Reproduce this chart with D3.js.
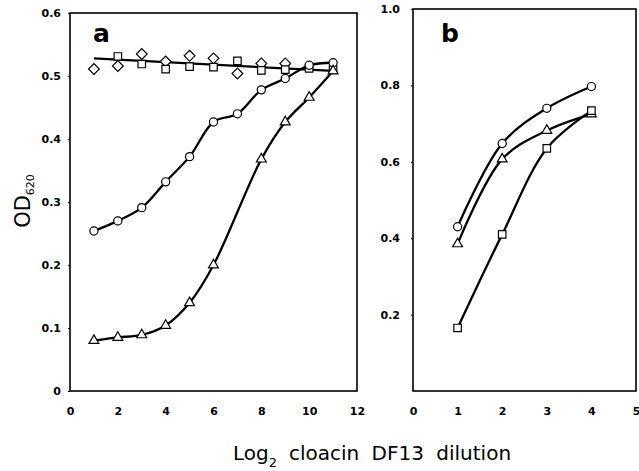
<!DOCTYPE html>
<html>
<head>
<meta charset="utf-8">
<script src="https://cdn.jsdelivr.net/npm/d3@7"></script>
<style>
  body { margin: 0; background: #fff; }
  svg { display: block; }
  .tick text { font-family: "DejaVu Sans", sans-serif; font-weight: bold; font-size: 11px; }
  .frame { fill: none; stroke: #000; stroke-width: 1.6; }
</style>
</head>
<body>
<div id="chart"></div>
<script>
// panel a - x values (log2 dilution) and OD620 readings
var doseA = [1, 2, 3, 4, 5, 6, 7, 8, 9, 10, 11];
var circlesA = [0.254, 0.270, 0.291, 0.332, 0.372, 0.427, 0.440, 0.478, 0.496, 0.517, 0.521];
var triDoseA = [1, 2, 3, 4, 5, 6, 8, 9, 10, 11];
var trianglesA = [0.080, 0.085, 0.089, 0.104, 0.140, 0.200, 0.368, 0.427, 0.466, 0.508];
var sqDoseA = [2, 3, 4, 5, 6, 7, 8, 9, 10, 11];
var squaresA = [0.531, 0.519, 0.511, 0.515, 0.514, 0.524, 0.509, 0.510, 0.512, 0.510];
var diaDoseA = [1, 2, 3, 4, 5, 6, 7, 8, 9];
var diamondsA = [0.511, 0.516, 0.535, 0.523, 0.532, 0.528, 0.504, 0.520, 0.520];
// straight fit through squares + diamonds
var fitDose = [1, 11];
var fitOD = [0.528, 0.508];

// panel b
var doseB = [1, 2, 3, 4];
var circlesB = [0.430, 0.648, 0.740, 0.797];
var trianglesB = [0.385, 0.607, 0.682, 0.725];
var squaresB = [0.165, 0.410, 0.635, 0.734];

var ticksAx = [0, 2, 4, 6, 8, 10, 12];
var ticksAy = [0, 0.1, 0.2, 0.3, 0.4, 0.5, 0.6];
var ticksBx = [0, 1, 2, 3, 4, 5];
var ticksBy = [0.2, 0.4, 0.6, 0.8, 1.0];

var width = 639, height = 471;

var svg = d3.select("#chart").append("svg")
    .attr("width", width)
    .attr("height", height);

svg.append("rect").attr("width", width).attr("height", height).attr("fill", "#fff");

function zip(xs, ys) {
    return xs.map(function(x, i){ return [x, ys[i]]; });
}

var shapes = {
    circle:   { type: d3.symbolCircle,   size: 52, rot: 0 },
    square:   { type: d3.symbolSquare,   size: 56, rot: 0 },
    triangle: { type: d3.symbolTriangle, size: 42, rot: 0 },
    diamond:  { type: d3.symbolSquare,   size: 58, rot: 45 }
};

function drawPanel(cfg) {
    var x = d3.scaleLinear().domain(cfg.xDomain).range(cfg.xRange);
    var y = d3.scaleLinear().domain(cfg.yDomain).range(cfg.yRange);
    var g = svg.append("g");

    // x axis
    var xa = g.append("g")
        .attr("transform", "translate(0," + cfg.yRange[0] + ")")
        .call(d3.axisBottom(x).tickValues(cfg.xTicks).tickSize(0).tickPadding(16).tickFormat(d3.format("d")));
    xa.select(".domain").remove();

    // y axis
    var ya = g.append("g")
        .attr("transform", "translate(" + cfg.xRange[0] + ",0)")
        .call(d3.axisLeft(y).tickValues(cfg.yTicks).tickSize(2).tickPadding(cfg.yPad)
            .tickFormat(function(d){ return d === 0 ? "0" : d.toFixed(1); }));
    ya.select(".domain").remove();

    g.append("rect").attr("class", "frame")
        .attr("x", cfg.xRange[0]).attr("y", cfg.yRange[1])
        .attr("width", cfg.xRange[1] - cfg.xRange[0])
        .attr("height", cfg.yRange[0] - cfg.yRange[1]);

    var line = d3.line()
        .x(function(d){ return x(d[0]); })
        .y(function(d){ return y(d[1]); });

    cfg.lines.forEach(function(l){
        g.append("path")
            .datum(l.pts)
            .attr("fill", "none")
            .attr("stroke", "#000")
            .attr("stroke-width", 2.3)
            .attr("d", line.curve(l.curve || d3.curveLinear));
    });

    cfg.marks.forEach(function(m){
        var s = shapes[m.shape];
        g.selectAll(null)
            .data(m.pts)
            .enter().append("path")
            .attr("d", d3.symbol().type(s.type).size(s.size))
            .attr("transform", function(d){
                return "translate(" + x(d[0]) + "," + y(d[1]) + ") rotate(" + s.rot + ")";
            })
            .attr("fill", "#fff")
            .attr("stroke", "#000")
            .attr("stroke-width", 1.2);
    });

    g.append("text")
        .attr("x", cfg.label[1]).attr("y", cfg.label[2])
        .attr("font-family", "DejaVu Sans, sans-serif")
        .attr("font-weight", "bold")
        .attr("font-size", 25)
        .text(cfg.label[0]);
}

drawPanel({
    xDomain: [0, 12], xRange: [70, 357],
    yDomain: [0, 0.6], yRange: [391, 13],
    xTicks: ticksAx, yTicks: ticksAy, yPad: 7,
    lines: [
        { pts: zip(fitDose, fitOD) },
        { pts: zip(doseA, circlesA), curve: d3.curveCatmullRom },
        { pts: zip(triDoseA, trianglesA), curve: d3.curveCatmullRom }
    ],
    marks: [
        { shape: "diamond", pts: zip(diaDoseA, diamondsA) },
        { shape: "square", pts: zip(sqDoseA, squaresA) },
        { shape: "circle", pts: zip(doseA, circlesA) },
        { shape: "triangle", pts: zip(triDoseA, trianglesA) }
    ],
    label: ["a", 93, 42]
});

drawPanel({
    xDomain: [0, 5], xRange: [413, 636],
    yDomain: [0, 1], yRange: [391, 9],
    xTicks: ticksBx, yTicks: ticksBy, yPad: 11,
    lines: [
        { pts: zip(doseB, circlesB), curve: d3.curveCatmullRom },
        { pts: zip(doseB, trianglesB), curve: d3.curveCatmullRom },
        { pts: zip(doseB, squaresB), curve: d3.curveCatmullRom }
    ],
    marks: [
        { shape: "circle", pts: zip(doseB, circlesB) },
        { shape: "triangle", pts: zip(doseB, trianglesB) },
        { shape: "square", pts: zip(doseB, squaresB) }
    ],
    label: ["b", 441, 42]
});

// y axis title
var yt = svg.append("text")
    .attr("transform", "translate(30,201) rotate(-90)")
    .attr("text-anchor", "middle")
    .attr("font-family", "DejaVu Sans, sans-serif")
    .attr("font-size", 21);
yt.append("tspan").text("OD");
yt.append("tspan").attr("font-size", 11).attr("dy", 4).text("620");

// x axis title
var xt = svg.append("text")
    .attr("x", 372).attr("y", 460)
    .attr("text-anchor", "middle")
    .attr("font-family", "DejaVu Sans, sans-serif")
    .attr("font-size", 20)
    .attr("word-spacing", 6);
xt.append("tspan").text("Log");
xt.append("tspan").attr("font-size", 13).attr("dy", 7).text("2");
xt.append("tspan").attr("dy", -7).attr("dx", 12).text("cloacin DF13 dilution");
</script>
</body>
</html>
